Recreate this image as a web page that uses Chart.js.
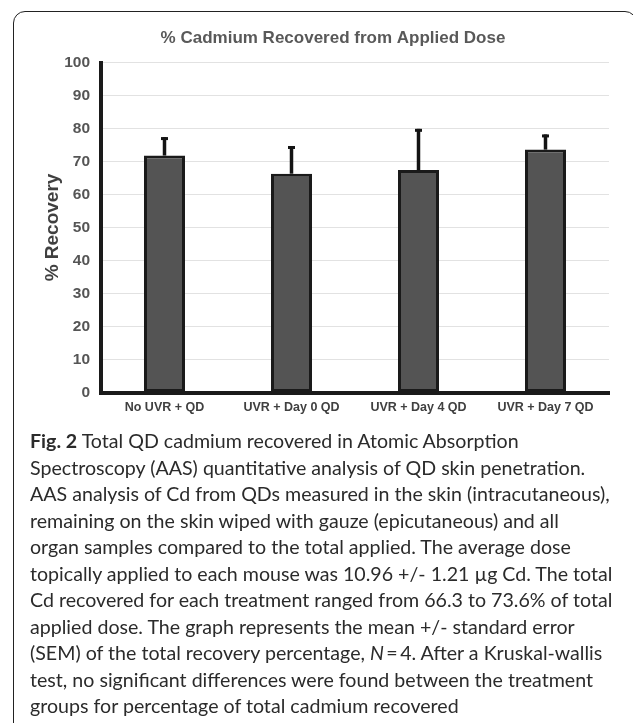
<!DOCTYPE html>
<html>
<head>
<meta charset="utf-8">
<script src="https://cdn.jsdelivr.net/npm/chart.js@4.4.1/dist/chart.umd.min.js"></script>
<style>
html,body{margin:0;padding:0;background:#fff;width:633px;height:723px;overflow:hidden;}
#frame{position:absolute;left:13px;top:11px;width:624px;height:760px;border:1.6px solid #222;border-radius:12px;box-sizing:border-box;}
#chartWrap{position:absolute;left:0;top:0;width:633px;height:430px;}
#caption{position:absolute;left:30px;top:428px;font-family:Lato,'Open Sans',sans-serif;font-size:18px;line-height:26.55px;color:#2b2b2b;white-space:nowrap;}
#caption .ln{width:max-content;}
</style>
</head>
<body>
<div id="frame"></div>
<div id="chartWrap"><canvas id="c" width="633" height="430"></canvas></div>
<div id="caption">
<div class="ln"><b>Fig. 2</b> Total QD cadmium recovered in Atomic Absorption</div>
<div class="ln">Spectroscopy (AAS) quantitative analysis of QD skin penetration.</div>
<div class="ln" id="fitLine">AAS analysis of Cd from QDs measured in the skin (intracutaneous),</div>
<div class="ln">remaining on the skin wiped with gauze (epicutaneous) and all</div>
<div class="ln">organ samples compared to the total applied. The average dose</div>
<div class="ln">topically applied to each mouse was 10.96 +/- 1.21 µg Cd. The total</div>
<div class="ln">Cd recovered for each treatment ranged from 66.3 to 73.6% of total</div>
<div class="ln">applied dose. The graph represents the mean +/- standard error</div>
<div class="ln">(SEM) of the total recovery percentage, <i>N</i>&#8201;=&#8201;4. After a Kruskal-wallis</div>
<div class="ln">test, no significant differences were found between the treatment</div>
<div class="ln">groups for percentage of total cadmium recovered</div>
</div>
<script>
const categories = ['No UVR + QD', 'UVR + Day 0 QD', 'UVR + Day 4 QD', 'UVR + Day 7 QD'];
const meanRecovery = [71.8, 66.3, 67.4, 73.6];
const semRecovery = [5.6, 8.4, 12.5, 4.6];
const yMin = 0;
const yMax = 100;
const yStep = 10;
const chartTitle = '% Cadmium Recovered from Applied Dose';
const yAxisTitle = '% Recovery';

// fit caption font so the widest line matches the reference width
(function(){
  const cap = document.getElementById('caption');
  const line = document.getElementById('fitLine');
  const w = line.getBoundingClientRect().width;
  const fs = 18 * 580 / w;
  cap.style.fontSize = fs.toFixed(2) + 'px';
})();

const FONT = '"Liberation Sans", Arial, Helvetica, sans-serif';

const titlePlugin = {
  id: 'offsetTitle',
  afterDraw(chart) {
    const ctx = chart.ctx;
    ctx.save();
    ctx.font = 'bold 17px ' + FONT;
    ctx.fillStyle = '#595959';
    ctx.textAlign = 'center';
    ctx.textBaseline = 'middle';
    ctx.fillText(chartTitle, 333, 38);
    ctx.restore();
  }
};

const errorBarPlugin = {
  id: 'errorBars',
  afterDatasetsDraw(chart) {
    const ctx = chart.ctx;
    const meta = chart.getDatasetMeta(0);
    const y = chart.scales.y;
    ctx.save();
    ctx.strokeStyle = '#141414';
    ctx.fillStyle = '#141414';
    meta.data.forEach((bar, i) => {
      const top = y.getPixelForValue(meanRecovery[i] + semRecovery[i]);
      ctx.lineWidth = 3.5;
      ctx.beginPath();
      ctx.moveTo(bar.x, bar.y);
      ctx.lineTo(bar.x, top);
      ctx.stroke();
      ctx.fillRect(bar.x - 3.5, top, 7, 3);
    });
    ctx.restore();
  }
};

new Chart(document.getElementById('c'), {
  type: 'bar',
  data: {
    labels: categories,
    datasets: [{
      data: meanRecovery,
      backgroundColor: '#545454',
      borderColor: '#1a1a1a',
      borderWidth: 3,
      borderSkipped: false,
      barPercentage: 0.323,
      categoryPercentage: 1
    }]
  },
  options: {
    responsive: false,
    devicePixelRatio: 1,
    animation: false,
    layout: { padding: { top: 62.5, right: 24, bottom: 0, left: 0 } },
    plugins: {
      legend: { display: false },
      tooltip: { enabled: false },
      title: { display: false }
    },
    scales: {
      x: {
        grid: { display: false, drawTicks: false },
        border: { display: true, color: '#1a1a1a', width: 4 },
        ticks: {
          padding: 8, color: '#404040', maxRotation: 0, autoSkip: false,
          font: { family: FONT, size: 12.5, weight: 'bold' }
        },
        afterFit(s) { s.height = 37.5; }
      },
      y: {
        min: yMin, max: yMax,
        grid: { color: '#e2e2e2', lineWidth: 1, drawTicks: false },
        border: { display: true, color: '#1a1a1a', width: 4 },
        ticks: {
          stepSize: yStep, padding: 11, color: '#555555',
          font: { family: FONT, size: 15.5, weight: 'bold' }
        },
        title: {
          display: true, text: yAxisTitle, color: '#404040',
          font: { family: FONT, size: 19, weight: 'bold' },
          padding: { top: 41.6, bottom: 0 }
        },
        afterFit(s) { s.width = 101; }
      }
    }
  },
  plugins: [titlePlugin, errorBarPlugin]
});
</script>
</body>
</html>
